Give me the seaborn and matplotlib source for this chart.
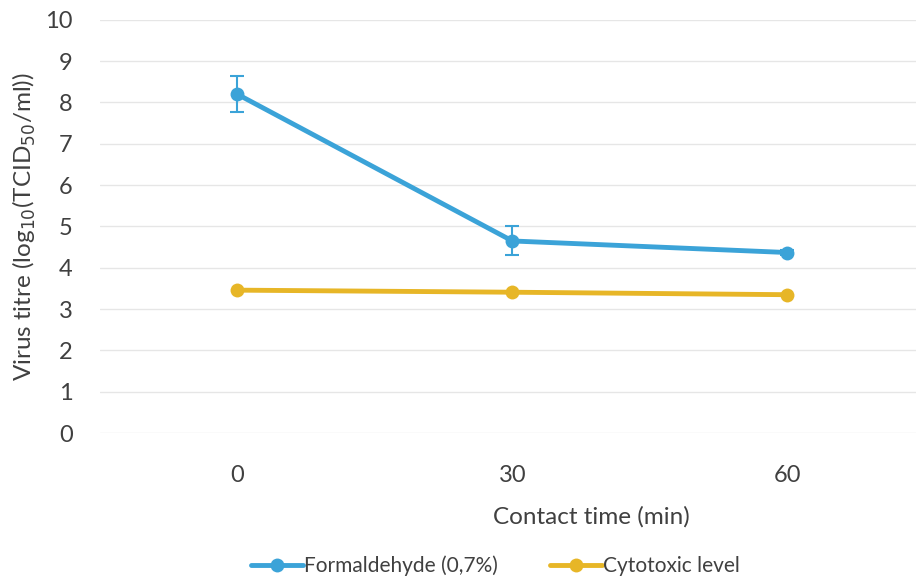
import matplotlib
matplotlib.use("Agg")
import matplotlib.pyplot as plt
import seaborn as sns
import pandas as pd
from matplotlib.lines import Line2D

contact_time = ["0", "30", "60"]
formaldehyde = [8.2, 4.65, 4.37]
formaldehyde_err = [0.43, 0.35, 0.05]
cytotoxic = [3.46, 3.41, 3.35]
y_ticks = list(range(0, 11))

sns.set_theme(style="white")
plt.rcParams['font.family'] = ['Lato', 'DejaVu Sans']

blue = "#3BA3D8"
yellow = "#E7B627"
text_col = "#404040"

fig = plt.figure(figsize=(9.16, 5.83), dpi=100)
ax = fig.add_axes([0.109, 0.257, 0.9007, 0.709])

df = pd.DataFrame({
    "x": list(range(3)) * 2,
    "y": formaldehyde + cytotoxic,
    "series": ["Formaldehyde (0,7%)"] * 3 + ["Cytotoxic level"] * 3,
})

sns.lineplot(data=df, x="x", y="y", hue="series",
             palette=[blue, yellow], marker="o", markersize=10,
             linewidth=3.5, markeredgewidth=0, ax=ax, legend=False, zorder=3)
ax.errorbar(range(3), formaldehyde, yerr=formaldehyde_err, fmt="none",
            ecolor=blue, elinewidth=1.5, capsize=5, capthick=1.5, zorder=2)

ax.set_xlim(-0.5, 2.5)
ax.set_ylim(0, 10)
ax.set_yticks(y_ticks)
ax.set_yticklabels([str(t) for t in y_ticks])
ax.set_xticks(range(3))
ax.set_xticklabels(contact_time)
ax.tick_params(axis="both", labelsize=17, colors=text_col, length=0)
ax.tick_params(axis="x", pad=23)
ax.tick_params(axis="y", pad=19.5)
ax.yaxis.grid(True, color="#E6E6E6", linewidth=1)
ax.set_axisbelow(True)
for s in ax.spines.values():
    s.set_visible(False)

ax.set_xlabel("Contact time (min)", fontsize=17.5, color=text_col)
ax.xaxis.set_label_coords(0.596, -0.177)
ax.set_ylabel("Virus titre (log$_{10}$(TCID$_{50}$/ml))", fontsize=17.5,
              color=text_col, labelpad=5)

handles = [
    Line2D([], [], color=blue, lw=3.5, marker="o", markersize=10, markeredgewidth=0),
    Line2D([], [], color=yellow, lw=3.5, marker="o", markersize=10, markeredgewidth=0),
]
fig.legend(handles, ["Formaldehyde (0,7%)", "Cytotoxic level"],
           loc="center", bbox_to_anchor=(0.541, 0.029), ncol=2, frameon=False,
           fontsize=15, labelcolor=text_col, handlelength=2.5,
           handletextpad=0.05, columnspacing=2.5)

fig.savefig("out.png", dpi=100)
